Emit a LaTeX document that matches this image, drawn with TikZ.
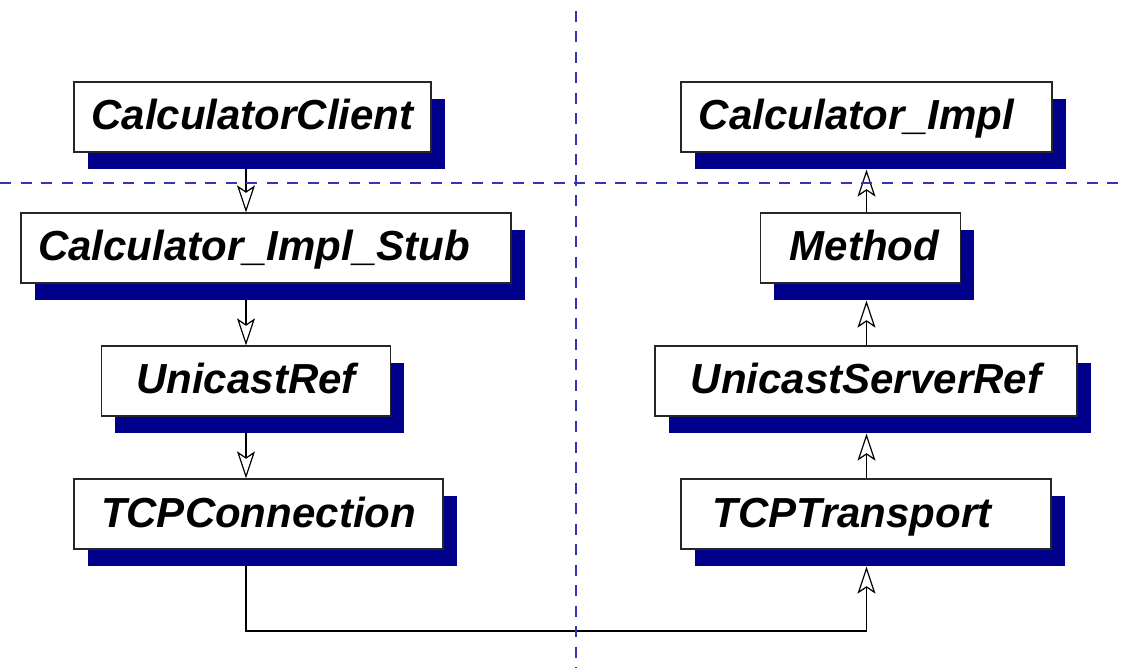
\documentclass[tikz,border=0pt]{standalone}
\usepackage{fontspec}
\setmainfont{Liberation Sans}
\usetikzlibrary{shadows}
\usetikzlibrary{arrows.meta}
\definecolor{shadowblue}{RGB}{0,0,139}
\definecolor{splitblue}{RGB}{52,52,180}
\tikzset{
    classbox/.style={ % one class of the call chain
    draw=black!85, line width=1.3pt, fill=white,
    minimum height=70pt, inner sep=0pt,
    text height=32pt, text depth=6pt, % same baseline in every box
    font=\fontsize{42}{50}\selectfont\bfseries\itshape,
    general shadow={shadow xshift=13.5pt, shadow yshift=-17pt, fill=shadowblue}},
    nudge/.style={ % moves the name sideways inside its box
    execute at begin node=\hspace*{#1},
    execute at end node=\hspace*{-#1}},
    call/.style={ % open arrow between two classes
    draw, line width=1.2pt,
    -{Stealth[length=27pt, width=18pt, inset=6pt, fill=white]}},
    split/.style={ % client/server and layer borders
    draw=splitblue, line width=1.1pt, dash pattern=on 11pt off 9.5pt}}
\pgfdeclarelayer{background}
\pgfsetlayers{background,main}

\begin{document}
\begin{tikzpicture}[x=1pt, y=-1pt]
        \useasboundingbox (0,0) rectangle (1128,668);

        % Borders between client and server, and between the layers
        \draw[split] (0,183) -- (1128,183);
        \draw[split] (576,11) -- (576,668);

        % Columns the calls run along
        \coordinate (colL) at (246,0);
        \coordinate (colR) at (866.5,0);
        \coordinate (bus) at (556,631);

        % Client side
        \node[classbox, minimum width=357pt] (client) at (252.5,117) {CalculatorClient};
        \node[classbox, minimum width=490pt, nudge=-12pt] (stub) at (266,248) {Calculator\_Impl\_Stub};
        \node[classbox, minimum width=289pt] (uref) at (246,381) {UnicastRef};
        \node[classbox, minimum width=369pt] (tcpconn) at (258.5,514) {TCPConnection};

        % Server side
        \node[classbox, minimum width=371pt, nudge=-10pt] (impl) at (866.5,117) {Calculator\_Impl};
        \node[classbox, minimum width=200pt, nudge=4pt] (method) at (860.5,248) {Method};
        \node[classbox, minimum width=422pt] (suref) at (866,381) {UnicastServerRef};
        \node[classbox, minimum width=370pt, nudge=-14pt] (tcptrans) at (866,514) {TCPTransport};

        % Calls, kept behind the shadows
        \begin{pgfonlayer}{background}
            \draw[call] (client.south -| colL) -- (stub.north -| colL);
            \draw[call] (stub.south -| colL) -- (uref.north -| colL);
            \draw[call] (uref.south -| colL) -- (tcpconn.north -| colL);

            \draw[call] (tcpconn.south -| colL) |- (bus) -| ([yshift=-17pt]tcptrans.south -| colR);

            \draw[call] (tcptrans.north -| colR) -- ([yshift=-17pt]suref.south -| colR);
            \draw[call] (suref.north -| colR) -- ([yshift=-17pt]method.south -| colR);
            \draw[call] (method.north -| colR) -- ([yshift=-17pt]impl.south -| colR);
        \end{pgfonlayer}

    \end{tikzpicture}
\end{document}
